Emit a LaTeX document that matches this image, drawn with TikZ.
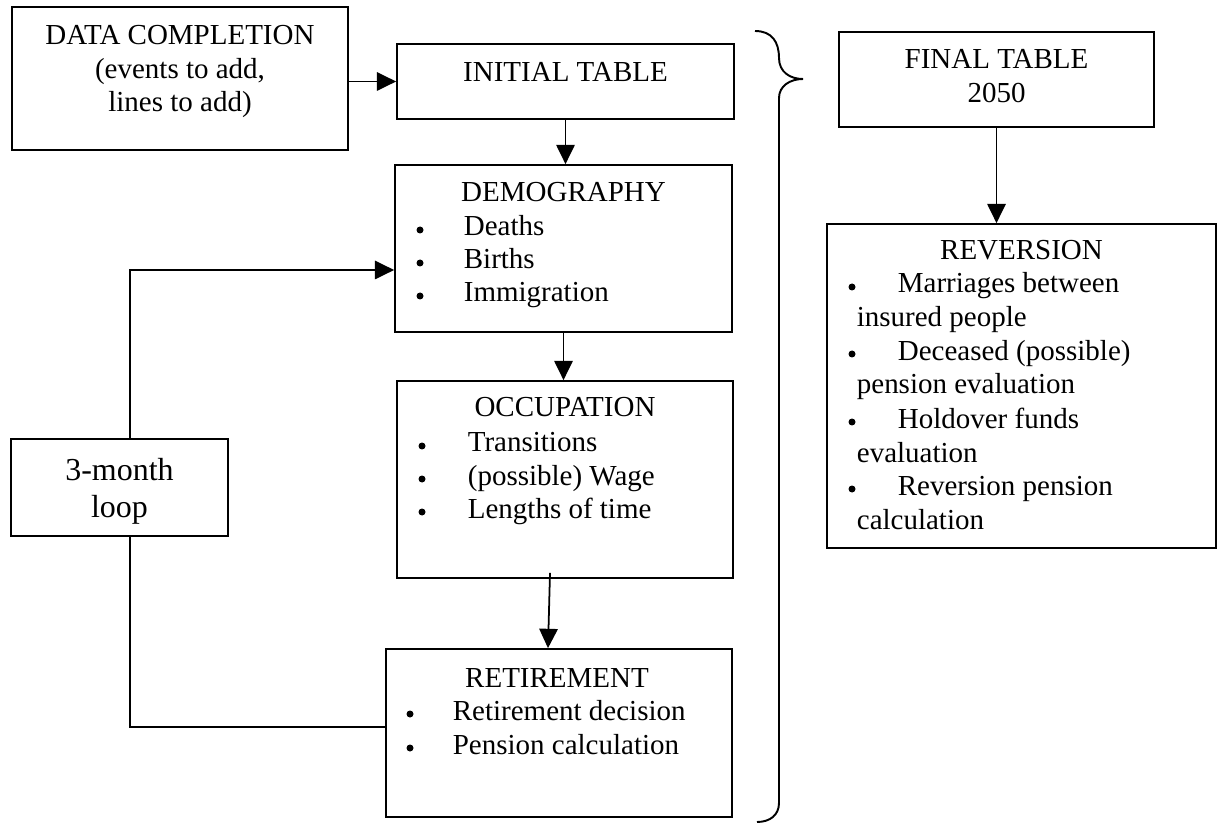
\documentclass[tikz,border=0pt]{standalone}
\usepackage{fontspec}
\setmainfont{Liberation Serif}
\usetikzlibrary{arrows.meta}

\begin{document}
\begin{tikzpicture}[x=0.02cm,y=-0.02cm,line width=1pt,>={Triangle[width=10.5pt,length=11pt]},
    box/.style={draw,inner sep=0pt},
    txt/.style={inner sep=0pt,font=\fontsize{16.5pt}{19pt}\selectfont},
    bigtxt/.style={inner sep=0pt,font=\fontsize{18.2pt}{21pt}\selectfont}]

  \useasboundingbox (0,0) rectangle (1218,824);

  % boxes (centre in pixel units)
  \node[box,minimum width=6.72cm,minimum height=2.86cm] (dc)   at (180,78.5) {};
  \node[box,minimum width=6.74cm,minimum height=1.5cm]  (init) at (565.5,81.5) {};
  \node[box,minimum width=6.74cm,minimum height=3.34cm] (demo) at (563.5,248.5) {};
  \node[box,minimum width=6.72cm,minimum height=3.94cm] (occ)  at (565,479.5) {};
  \node[box,minimum width=6.92cm,minimum height=3.36cm] (ret)  at (559,733) {};
  \node[box,minimum width=4.34cm,minimum height=1.94cm] (loop) at (119.5,487.5) {};
  \node[box,minimum width=6.3cm,minimum height=1.9cm]   (fin)  at (996.5,79.5) {};
  \node[box,minimum width=7.78cm,minimum height=6.48cm] (rev)  at (1021.5,386) {};

  % titles
  \node[txt,anchor=base] (dc-t1) at (180,45) {DATA COMPLETION};
  \node[txt,anchor=base] (dc-t2) at (180,78.5) {(events to add,};
  \node[txt,anchor=base] (dc-t3) at (180,112) {lines to add)};
  \node[txt,anchor=base] (init-t) at (565.5,82) {INITIAL TABLE};
  \node[txt,anchor=base] (demo-t) at (563.5,202) {DEMOGRAPHY};
  \node[txt,anchor=base] (occ-t) at (565,417) {OCCUPATION};
  \node[txt,anchor=base] (ret-t) at (557,687) {RETIREMENT};
  \node[bigtxt,anchor=base] (loop-t1) at (119.5,480) {3-month};
  \node[bigtxt,anchor=base] (loop-t2) at (119.5,517) {loop};
  \node[txt,anchor=base] (fin-t1) at (996.5,69) {FINAL TABLE};
  \node[txt,anchor=base] (fin-t2) at (996.5,103) {2050};
  \node[txt,anchor=base] (rev-t) at (1021.5,260) {REVERSION};

  % bullet lists: bullet x / text x / baseline / text
  \foreach \bx/\tx/\y/\txt [count=\i] in {
    420/463/236/Deaths, 420/463/269/Births, 420/463/302/Immigration,
    422/467/452/Transitions, 422/467/485/(possible) Wage, 422/467/518/Lengths of time,
    410/452/720/Retirement decision, 410/452/754/Pension calculation,
    852/897/293/Marriages between, 852/897/360/Deceased (possible),
    852/897/428/Holdover funds, 852/897/495/Reversion pension}
  {
    \fill (\bx,\y-6) circle[radius=0.07cm];
    \node[txt,anchor=base west] (item-\i) at (\tx,\y) {\txt};
  }

  % wrapped lines of the reversion list
  \foreach \y/\txt [count=\i] in {327/insured people, 394/pension evaluation, 462/evaluation, 529/calculation}
    \node[txt,anchor=base west] (rev-c\i) at (856,\y) {\txt};

  % connectors
  \draw[->] (init.west -| dc.east) -- (init.west);
  \draw[->] (init.south) -- (init.south |- demo.north);
  \draw[->] (demo.south) -- (demo.south |- occ.north);
  \draw[->] ([shift={(-15,-6)}]occ.south) -- ([xshift=-0.22cm]ret.north);
  \draw[->] ([xshift=0.21cm]loop.north) |- ([yshift=-0.43cm]demo.west);
  \draw ([xshift=0.21cm]loop.south) |- ([yshift=0.12cm]ret.west);
  \draw[->] (fin.south) -- (fin.south |- rev.north);

  % brace
  \draw[line width=1.1pt] (755,31) .. controls (772,31) and (779,42) .. (779,58)
    .. controls (779,72) and (790,79) .. (803,79)
    .. controls (790,79) and (779,86) .. (779,98) -- (779,803)
    .. controls (779,815) and (770,822) .. (757,822);
\end{tikzpicture}
\end{document}
